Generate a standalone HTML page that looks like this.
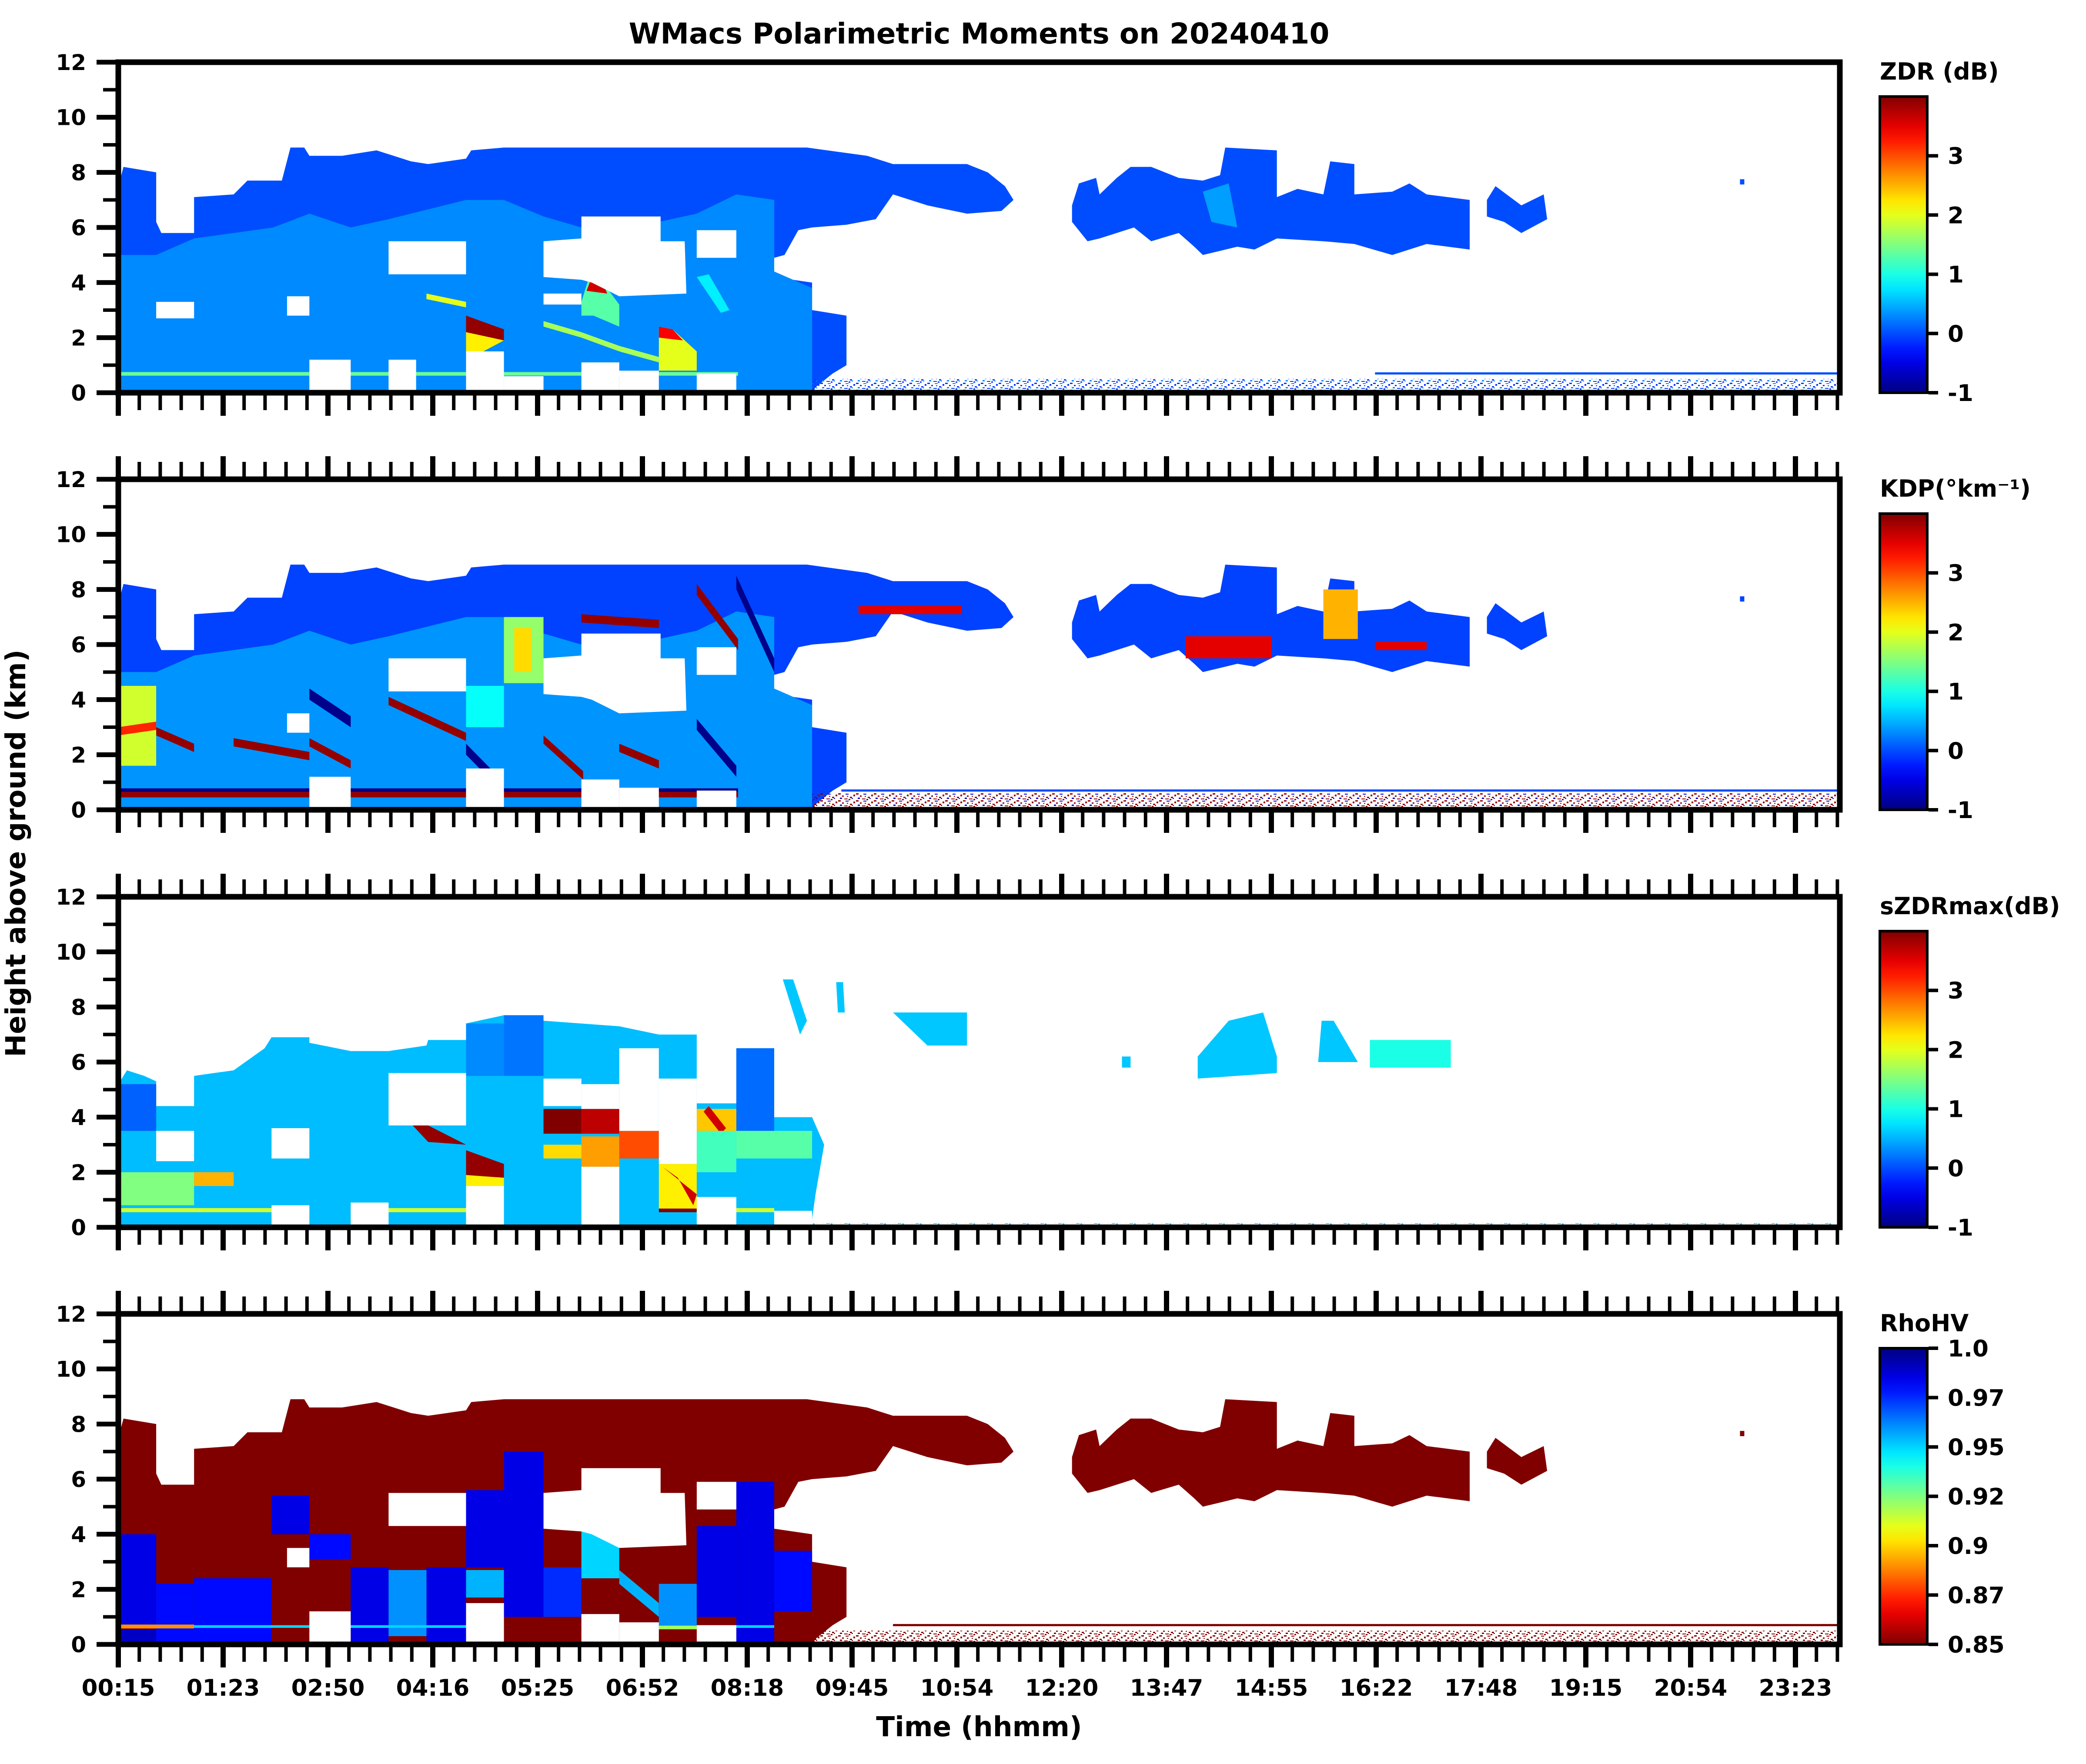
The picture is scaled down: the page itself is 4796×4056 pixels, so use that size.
<!DOCTYPE html>
<html><head><meta charset="utf-8"><style>
html,body{margin:0;padding:0;background:#fff;}
svg{display:block;font-family:"DejaVu Sans","Liberation Sans",sans-serif;font-weight:bold;}
</style></head><body>
<svg id="fig" width="4796" height="4056" viewBox="0 0 4796 4056" xmlns="http://www.w3.org/2000/svg">
<defs id="defs"></defs>
<text x="2251" y="100" text-anchor="middle" font-size="66">WMacs Polarimetric Moments on 20240410</text>
<text x="0" y="0" transform="translate(58,1962) rotate(-90)" text-anchor="middle" font-size="63">Height above ground (km)</text>
<text x="2251" y="3992" text-anchor="middle" font-size="63">Time (hhmm)</text>
<g id="plots"></g>
</svg>
<script>
// ---------- data (time index 0..100 across the day, height km) ----------
const timeLabels = ["00:15","01:23","02:50","04:16","05:25","06:52","08:18","09:45","10:54","12:20","13:47","14:55","16:22","17:48","19:15","20:54","23:23"];
const heightTicks = [0,2,4,6,8,10,12];
const cbTitles = ["ZDR (dB)","KDP(°km⁻¹)","sZDRmax(dB)","RhoHV"];
const cbTicksPol = [-1,0,1,2,3];
const cbTicksRho = [0.85,0.875,0.9,0.925,0.95,0.975,1.0];
const cbTickLabelsRho = ["0.85","0.87","0.9","0.92","0.95","0.97","1.0"];

const mainCloud = [0,0, 0,7.5, 0.3,8.2, 2.2,8.0, 2.2,6.2, 2.5,5.8, 4.4,5.8, 4.4,7.1, 6.7,7.2, 7.5,7.7, 9.5,7.7, 10,8.9, 10.8,8.9, 11.1,8.6, 13,8.6, 15,8.8, 17,8.4, 18,8.3, 20.2,8.5, 20.5,8.8, 22.4,8.9, 35,8.9, 40,8.9, 43.5,8.6, 45,8.3, 49.3,8.3, 50.5,8.0, 51.5,7.5, 52,7.0, 51.3,6.6, 49.3,6.5, 47,6.8, 45,7.2, 44,6.3, 42.3,6.1, 40.3,6.0, 39.5,5.9, 38.7,5.0, 38.1,4.9, 38.1,4.2, 40.3,4.0, 40.3,3.0, 42.3,2.8, 42.3,1.0, 41.5,0.7, 40.5,0.2, 40.3,0];
const rightCloud = [55.4,6.8, 55.8,7.6, 56.8,7.8, 57,7.2, 58,7.8, 58.8,8.2, 60,8.2, 61.6,7.8, 63,7.7, 64,7.9, 64.3,8.9, 67.3,8.8, 67.3,7.1, 68.5,7.4, 70,7.2, 70.4,8.4, 71.8,8.3, 71.8,7.2, 74,7.3, 75,7.6, 76,7.2, 78.5,7.0, 78.5,5.2, 76,5.4, 74,5.0, 71.8,5.4, 70,5.5, 67.3,5.6, 66,5.2, 65,5.3, 63,5.0, 62.5,5.3, 61.6,5.8, 60,5.5, 59,6.0, 57,5.6, 56.3,5.5, 55.4,6.2];
const smallCloud = [79.5,7.0, 80,7.5, 81.5,6.8, 82.8,7.2, 83,6.3, 81.5,5.8, 80.5,6.2, 79.5,6.4];
const lightLower = [0,0, 0,5.0, 2.2,5.0, 4.4,5.6, 6.7,5.8, 9,6.0, 11.1,6.5, 13.5,6.0, 15.7,6.3, 20.2,7.0, 22.4,7.0, 24.7,6.4, 26.9,6.0, 31.4,6.2, 33.6,6.5, 35.9,7.2, 38.1,7.0, 38.1,4.4, 40.3,3.8, 40.3,0];
const sharedHoles = [[15.7,20.2,4.3,5.5],[33.6,35.9,4.9,5.9],[11.1,13.5,0,1.2],[20.2,22.4,0,1.5],[26.9,29.1,0,1.1],[29.1,31.4,0,0.8],[33.6,35.9,0,0.7],[9.8,11.1,2.8,3.5]];
const bigHole = [24.7,4.2, 24.7,5.5, 26.9,5.6, 26.9,6.4, 31.5,6.4, 31.5,5.5, 32.9,5.5, 33.0,3.6, 29.1,3.5, 27.5,4.0, 26.9,4.1];
const zdrExtraHoles = [[2.2,4.4,2.7,3.3],[15.7,17.3,0,1.2],[22.4,24.7,0,0.6],[24.7,26.9,3.2,3.6]];

const zdrValues = [1.4, 3.9, 2.2, 2.0, 1.3, 3.6, 1.7, 2.0, 3.4, 0.8];
const zdrShapes = [
 [0,0.62, 36,0.62, 36,0.75, 0,0.75],
 [20.2,2.8, 22.4,2.3, 22.4,1.9, 20.2,2.2],
 [20.2,2.2, 22.4,1.9, 21.2,1.5, 20.2,1.4],
 [17.9,3.6, 20.2,3.3, 20.2,3.1, 17.9,3.4],
 [26.9,3.3, 27.3,4.1, 27.9,4.2, 29.1,3.2, 29.1,2.4, 27.6,2.8, 26.9,2.8],
 [27.2,3.7, 27.5,4.2, 28,4.2, 28.4,3.6],
 [24.7,2.6, 26.9,2.2, 29.1,1.7, 31.4,1.3, 31.4,1.1, 29.1,1.5, 26.9,2.0, 24.7,2.4],
 [31.4,2.4, 32.2,2.3, 33.6,1.5, 33.6,0.8, 31.4,0.8],
 [31.4,2.4, 32.2,2.3, 32.8,1.9, 31.4,2.0],
 [33.6,4.2, 34.3,4.3, 35.5,3.0, 35,2.9]
];

const kdpValues = [1.9, 3.2, 1.6, 2.3, 0.9, 3.9, 3.9, 3.9, 3.9, 3.9, 3.9, 3.9, 3.9, -0.95, -0.95, -0.95, -0.95, 3.9, -1, 3.5, 2.5, 3.5, 3.5];
const kdpShapes = [
 [0,1.6, 2.2,1.6, 2.2,4.5, 0,4.5],
 [0,2.7, 2.2,2.9, 2.2,3.2, 0,3.0],
 [22.4,4.6, 24.7,4.6, 24.7,7.0, 22.4,7.0],
 [23,5.0, 24,5.0, 24,6.6, 23,6.6],
 [20.2,3.0, 22.4,3.0, 22.4,4.5, 20.2,4.5],
 [6.7,2.6, 11.1,2.1, 11.1,1.8, 6.7,2.3],
 [11.1,2.6, 13.5,1.8, 13.5,1.5, 11.1,2.3],
 [15.7,4.1, 20.2,2.8, 20.2,2.5, 15.7,3.8],
 [24.7,2.7, 27,1.4, 27,1.1, 24.7,2.4],
 [29.1,2.4, 31.4,1.8, 31.4,1.5, 29.1,2.1],
 [26.9,7.1, 31.4,6.9, 31.4,6.6, 26.9,6.8],
 [33.6,8.2, 36,6.2, 36,5.8, 33.6,7.8],
 [2.2,3.0, 4.4,2.4, 4.4,2.1, 2.2,2.7],
 [11.1,4.4, 13.5,3.4, 13.5,3.0, 11.1,4.0],
 [20.2,2.4, 22.4,1.0, 22.4,0.6, 20.2,2.0],
 [33.6,3.3, 35.9,1.6, 35.9,1.2, 33.6,2.9],
 [35.9,8.5, 38.1,5.5, 38.1,5.0, 35.9,8.0],
 [0,0.45, 36,0.45, 36,0.65, 0,0.65],
 [0,0.65, 36,0.65, 36,0.78, 0,0.78],
 [43,7.1, 49,7.1, 49,7.4, 43,7.4],
 [70,6.2, 72,6.2, 72,8.0, 70,8.0],
 [62,5.5, 67,5.5, 67,6.3, 62,6.3],
 [73,5.8, 76,5.8, 76,6.1, 73,6.1]
];

const szdrCloud = [0,0, 0,5.2, 0.5,5.7, 1.5,5.5, 2.2,5.3, 2.2,4.4, 4.4,4.4, 4.4,5.5, 6.7,5.7, 8.5,6.5, 8.9,6.9, 11.1,6.9, 11.1,6.7, 13.5,6.4, 15.7,6.4, 17.9,6.6, 18,6.8, 20.2,6.8, 20.2,7.4, 22.4,7.7, 24.7,7.5, 29.1,7.3, 31.4,7.0, 33.6,7.0, 33.6,4.5, 35.9,4.5, 35.9,6.5, 38.1,6.5, 38.1,4.0, 40.3,4.0, 41,3, 40.5,1.2, 40.3,0.3, 40.3,0];
const szdrPatches = [
 [45,7.8, 49.3,7.8, 49.3,6.6, 47,6.6],
 [62.7,5.4, 62.7,6.2, 64.5,7.5, 66.5,7.8, 67.3,6.2, 67.3,5.6],
 [69.7,6.0, 69.9,7.5, 70.6,7.5, 72,6.0],
 [58.3,5.8, 58.3,6.2, 58.8,6.2, 58.8,5.8],
 [38.6,9, 39.2,9, 40,7.5, 39.6,7.0],
 [41.7,8.9, 42.1,8.9, 42.2,7.8, 41.8,7.8]
];
const szdrHoles = [[2.2,4.4,2.4,3.5],[8.9,11.1,2.5,3.6],[8.9,11.1,0,0.8],[15.7,20.2,3.7,5.6],[20.2,22.4,0,1.5],[24.7,26.9,4.4,5.4],[26.9,29.1,4.3,5.2],[26.9,29.1,0,2.2],[29.1,31.4,3.5,6.5],[31.4,33.6,2.3,5.4],[33.6,35.9,0,1.1],[38.1,40.3,0,0.6],[13.5,15.7,0,0.9]];
const szdrValues = [0.1, 0.15, 0.2, 0.3, 1.9, 1.9, 1.9, 1.5, 2.5, 3.9, 3.9, 2.2, 4.0, 3.7, 2.6, 2.3, 3.0, 2.2, 3.6, 4.0, 2.4, 3.6, 1.2, 1.3, 1.0];
const szdrShapes = [
 [0,3.5, 2.2,3.5, 2.2,5.2, 0,5.2],
 [35.9,3.5, 38.1,3.5, 38.1,6.5, 35.9,6.5],
 [22.4,5.5, 24.7,5.5, 24.7,7.7, 22.4,7.7],
 [20.2,5.5, 22.4,5.5, 22.4,7.4, 20.2,7.4],
 [0,0.55, 11.1,0.55, 11.1,0.7, 0,0.7],
 [13.5,0.55, 20.2,0.55, 20.2,0.7, 13.5,0.7],
 [35.9,0.55, 38.1,0.55, 38.1,0.7, 35.9,0.7],
 [0,0.8, 4.4,0.8, 4.4,2.0, 0,2.0],
 [4.4,1.5, 6.7,1.5, 6.7,2.0, 4.4,2.0],
 [16.2,4.3, 18,3.1, 20.2,3.0, 18,3.7],
 [20.2,2.8, 22.4,2.3, 22.4,1.8, 20.2,1.9],
 [20.2,1.5, 22.4,1.5, 22.4,1.8, 20.2,1.9],
 [24.7,3.4, 26.9,3.4, 26.9,4.3, 24.7,4.3],
 [26.9,3.4, 29.1,3.4, 29.1,4.3, 26.9,4.3],
 [26.9,2.2, 29.1,2.2, 29.1,3.3, 26.9,3.3],
 [24.7,2.5, 26.9,2.5, 26.9,3.0, 24.7,3.0],
 [29.1,2.5, 31.4,2.5, 31.4,3.5, 29.1,3.5],
 [31.4,0.6, 33.6,0.6, 33.6,2.3, 31.4,2.3],
 [31.6,2.2, 32.5,1.8, 33.4,0.8, 33.6,1.2],
 [31.4,0.55, 33.6,0.55, 33.6,0.68, 31.4,0.68],
 [33.6,3.5, 35.9,3.5, 35.9,4.3, 33.6,4.3],
 [34,4.2, 35,3.4, 35.3,3.6, 34.3,4.4],
 [33.6,2.0, 35.9,2.0, 35.9,3.5, 33.6,3.5],
 [35.9,2.5, 40.3,2.5, 40.3,3.5, 35.9,3.5],
 [72.7,5.8, 77.4,5.8, 77.4,6.8, 72.7,6.8]
];

const rhoValues = [0.985, 0.99, 0.98, 0.98, 0.985, 0.98, 0.985, 0.96, 0.985, 0.985, 0.955, 0.985, 0.975, 0.95, 0.955, 0.96, 0.985, 0.985, 0.98, 0.89, 0.95, 0.95, 0.92, 0.95];
const rhoShapes = [
 [0,0.7, 2.2,0.7, 2.2,4.0, 0,4.0],
 [0,0, 2.2,0, 2.2,0.55, 0,0.55],
 [2.2,0, 4.4,0, 4.4,2.2, 2.2,2.2],
 [4.4,0, 8.9,0, 8.9,2.4, 4.4,2.4],
 [8.9,4.0, 11.1,4.0, 11.1,5.4, 8.9,5.4],
 [11.1,3.1, 13.5,3.1, 13.5,4.0, 11.1,4.0],
 [13.5,0, 15.7,0, 15.7,2.8, 13.5,2.8],
 [15.7,0.3, 17.9,0.3, 17.9,2.7, 15.7,2.7],
 [17.9,0, 20.2,0, 20.2,2.8, 17.9,2.8],
 [20.2,2.8, 22.4,2.8, 22.4,5.6, 20.2,5.6],
 [20.2,1.7, 22.4,1.7, 22.4,2.7, 20.2,2.7],
 [22.4,1.0, 24.7,1.0, 24.7,7.0, 22.4,7.0],
 [24.7,1.0, 26.9,1.0, 26.9,2.8, 24.7,2.8],
 [26.9,2.4, 29.1,2.4, 29.1,4.1, 26.9,4.1],
 [29.1,2.2, 31.4,1.0, 31.4,1.5, 29.1,2.7],
 [31.4,0.6, 33.6,0.6, 33.6,2.2, 31.4,2.2],
 [33.6,1.0, 35.9,1.0, 35.9,4.3, 33.6,4.3],
 [35.9,0, 38.1,0, 38.1,5.9, 35.9,5.9],
 [38.1,1.2, 40.3,1.2, 40.3,3.4, 38.1,3.4],
 [0,0.58, 4.4,0.58, 4.4,0.72, 0,0.72],
 [4.4,0.6, 11.1,0.6, 11.1,0.7, 4.4,0.7],
 [13.5,0.6, 20.2,0.6, 20.2,0.7, 13.5,0.7],
 [31.4,0.55, 33.6,0.55, 33.6,0.68, 31.4,0.68],
 [35.9,0.6, 38.1,0.6, 38.1,0.7, 35.9,0.7]
];
const groundSpan = [40.3, 100];
const groundLineSpan = [[73,100],[42,100],[0,0],[45,100]];

// ---------- drawing ----------
const NS = "http://www.w3.org/2000/svg";
const PANEL_TOP = [143,1102,2062,3021], PH = 760, X0 = 272, X1 = 4230;
const CB_X0 = 4322, CB_X1 = 4431;
const xs = t => X0 + (X1 - X0) * t / 100;
const ys = (p, h) => PANEL_TOP[p] + (12 - h) / 12 * PH;
function cl(x){return Math.max(0, Math.min(1, x));}
function jet(v){v=cl(v);const r=cl(1.5-Math.abs(4*v-3)),g=cl(1.5-Math.abs(4*v-2)),b=cl(1.5-Math.abs(4*v-1));return `rgb(${Math.round(r*255)},${Math.round(g*255)},${Math.round(b*255)})`;}
const polCol = v => jet((v + 1) / 5);
const rhoCol = v => jet((1 - v) / 0.15);
function mk(tag, attrs, parent){const e=document.createElementNS(NS,tag);for(const k in attrs)e.setAttribute(k,attrs[k]);parent.appendChild(e);return e;}
function ptsStr(p, arr){let s=[];for(let i=0;i<arr.length;i+=2)s.push(xs(arr[i]).toFixed(1)+","+ys(p,arr[i+1]).toFixed(1));return s.join(" ");}
function rectPts(r){return [r[0],r[2], r[1],r[2], r[1],r[3], r[0],r[3]];}

const plots = document.getElementById("plots");
const defs = document.getElementById("defs");

function groundPattern(id, c1, c2){
  const pat = mk("pattern",{id:id,width:41,height:16,patternUnits:"userSpaceOnUse"},defs);
  const specks = [[0,0,6,3],[9,5,4,3],[17,1,7,2],[27,8,5,3],[35,3,4,4],[4,10,5,3],[14,12,8,2],[24,13,4,3],[31,11,3,2],[20,6,3,2]];
  specks.forEach((s,i)=>mk("rect",{x:s[0],y:s[1],width:s[2],height:s[3],fill:i%3===2?c2:c1},pat));
}
groundPattern("gp0", polCol(-0.1), polCol(0.3));
groundPattern("gp1", polCol(3.9), polCol(-0.6));
groundPattern("gp2", polCol(0.6), polCol(2.5));
groundPattern("gp3", rhoCol(0.85), rhoCol(0.85));

for (let p = 0; p < 4; p++) {
  const g = mk("g",{},plots);
  
  
  const cp = mk("clipPath",{id:"clip"+p},defs);
  mk("rect",{x:X0,y:PANEL_TOP[p],width:X1-X0,height:PH},cp);
  const data = mk("g",{"clip-path":`url(#clip${p})`},g);
  
  
  const poly = (arr, fill) => { const e = mk("polygon",{points:ptsStr(p,arr),fill:fill},data);
    
     return e; };

  if (p !== 2) {
    const base = p === 3 ? rhoCol(0.85) : polCol(p === 1 ? -0.05 : 0.0);
    poly(mainCloud, base); poly(rightCloud, base); poly(smallCloud, base);
    mk("rect",{x:xs(94.2),y:ys(p,7.75),width:10,height:12,fill:base},data);
    if (p === 0) { poly(lightLower, polCol(0.3)); zdrShapes.forEach((s,i)=>poly(s, polCol(zdrValues[i]))); poly([63,7.3,64.5,7.6,65,6.0,63.5,6.2], polCol(0.4)); }
    if (p === 1) { poly(lightLower, polCol(0.35)); kdpShapes.forEach((s,i)=>poly(s, polCol(kdpValues[i]))); }
    if (p === 3) { rhoShapes.forEach((s,i)=>poly(s, rhoCol(rhoValues[i]))); }
    sharedHoles.forEach(r=>poly(rectPts(r), "#fff"));
    poly(bigHole, "#fff");
    if (p === 0) zdrExtraHoles.forEach(r=>poly(rectPts(r), "#fff"));
  } else {
    poly(szdrCloud, polCol(0.55));
    szdrPatches.forEach(s=>poly(s, polCol(0.6)));
    szdrShapes.forEach((s,i)=>poly(s, polCol(szdrValues[i])));
    szdrHoles.forEach(r=>poly(rectPts(r), "#fff"));
  }
  const gh = p === 2 ? 0.15 : (p === 1 ? 0.6 : 0.5);
  const gr = mk("rect",{x:xs(groundSpan[0]),y:ys(p,gh),width:xs(groundSpan[1])-xs(groundSpan[0]),height:ys(p,0)-ys(p,gh),fill:`url(#gp${p})`},data);
  
  
  const gl = groundLineSpan[p];
  if (gl[1] > gl[0]) {
    const ln = mk("rect",{x:xs(gl[0]),y:ys(p,0.74),width:xs(gl[1])-xs(gl[0]),height:5,fill:p===3?rhoCol(0.85):polCol(0.0)},data);
    
    
  }

  const fr = mk("rect",{x:X0,y:PANEL_TOP[p],width:X1-X0,height:PH,fill:"none",stroke:"#000","stroke-width":13},g);
  
  

  for (let h = 0; h <= 12; h++) {
    const y = ys(p,h), major = h % 2 === 0;
    const tk = mk("line",{x1:X0,x2:X0-(major?50:35),y1:y,y2:y,stroke:"#000","stroke-width":major?11:8},g);
    
    
  }
  heightTicks.forEach(h=>{
    const t = mk("text",{x:198,y:ys(p,h)+18,"text-anchor":"end","font-size":50},g);
    
    
    t.textContent = String(h);
  });
  const sp = 241;
  for (let i = 0; i <= 82; i++) {
    const x = X0 + i * sp / 5; if (x > X1 + 2) break;
    const major = i % 5 === 0, len = major ? 53 : 40;
    const yb = PANEL_TOP[p] + PH;
    const tb = mk("line",{x1:x,x2:x,y1:yb,y2:yb+len,stroke:"#000","stroke-width":major?12:8},g);
    
    
    if (p > 0) {
      const tt = mk("line",{x1:x,x2:x,y1:PANEL_TOP[p],y2:PANEL_TOP[p]-len,stroke:"#000","stroke-width":major?12:8},g);
      
      
    }
  }
  if (p === 3) {
    timeLabels.forEach((lab,i)=>{
      const t = mk("text",{x:X0+i*sp,y:3899,"text-anchor":"middle","font-size":53},g);
      
      
      t.textContent = lab;
    });
  }

  const cbTop = PANEL_TOP[p] + 79, cbBot = PANEL_TOP[p] + PH;
  const gid = "cbg" + p;
  const lg = mk("linearGradient",{id:gid,x1:0,y1:0,x2:0,y2:1},defs);
  for (let k = 0; k <= 20; k++) {
    const f = k / 20;
    mk("stop",{offset:f,"stop-color":p===3?jet(f):jet(1-f)},lg);
  }
  const cb = mk("rect",{x:CB_X0,y:cbTop,width:CB_X1-CB_X0,height:cbBot-cbTop,fill:`url(#${gid})`,stroke:"#000","stroke-width":6},g);
  
  
  const ct = mk("text",{x:CB_X0,y:PANEL_TOP[p]+40,"font-size":54},g);
  
  
  ct.textContent = cbTitles[p];
  const ticks = p === 3 ? cbTicksRho : cbTicksPol;
  ticks.forEach((v,i)=>{
    const f = p === 3 ? (1 - v) / 0.15 : (v + 1) / 5;
    const y = p === 3 ? cbTop + f * (cbBot - cbTop) : cbBot - f * (cbBot - cbTop);
    const tk = mk("line",{x1:CB_X1+3,x2:CB_X1+25,y1:y,y2:y,stroke:"#000","stroke-width":8},g);
    
    
    const tl = mk("text",{x:4478,y:y+19,"font-size":53},g);
    
    
    tl.textContent = p === 3 ? cbTickLabelsRho[i] : String(v);
  });
}
</script>
</body></html>
